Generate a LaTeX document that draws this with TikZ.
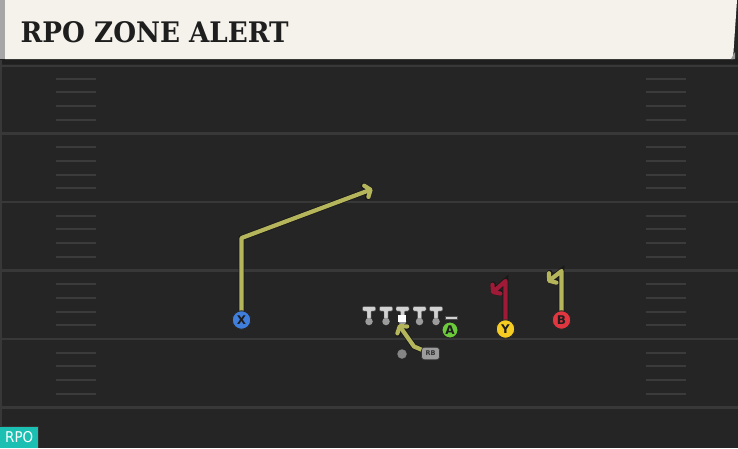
\documentclass[tikz,border=0pt]{standalone}
\usepackage{fontspec}
\usepackage{graphicx}
\usetikzlibrary{arrows.meta}
\newfontfamily\titlefont{DejaVu Serif}
\newfontfamily\sansf{DejaVu Sans}
\definecolor{field}{HTML}{252525}
\definecolor{hdr}{HTML}{F5F2EB}
\definecolor{titlec}{HTML}{1E1E1E}
\definecolor{yard}{HTML}{383838}
\definecolor{hashc}{HTML}{3B3B3B}
\definecolor{olv}{HTML}{B5B55C}
\definecolor{rte}{HTML}{9E1A36}
\definecolor{xblue}{HTML}{3F7FDB}
\definecolor{agreen}{HTML}{6CCB3A}
\definecolor{yyel}{HTML}{F5CC22}
\definecolor{bred}{HTML}{E1363F}
\definecolor{tealc}{HTML}{1BC0B3}
\definecolor{teec}{HTML}{D2D2D2}
\definecolor{basec}{HTML}{9C9C9C}
\tikzset{
  yardline/.style={draw=yard, line width=2.2pt},
  hashmark/.style={draw=hashc, line width=2pt},
  route/.style={line width=4.2pt, line join=round, line cap=round,
    -{Straight Barb[length=4.5pt,width=12pt,round]},
    preaction={draw=black!90, line width=5.8pt}},
  player/.style={circle, minimum size=18.5pt, inner sep=0pt, draw=black!85,
    line width=0.9pt, text=titlec, font=\sansf\bfseries\fontsize{12}{12}\selectfont},
  tee/.style={fill=teec, draw=black!70, line width=0.4pt, rounded corners=1pt},
  tbase/.style={circle, fill=basec, minimum size=7.5pt, inner sep=0pt},
  rbbox/.style={draw=black!80, fill=basec, rounded corners=3pt, minimum width=18pt,
    minimum height=12.5pt, inner sep=0pt, line width=0.6pt, text=black!80,
    font=\sansf\bfseries\fontsize{6.5}{6.5}\selectfont},
  qbsq/.style={fill=white, minimum width=8pt, minimum height=7.5pt, inner sep=0pt},
}
\begin{document}
\begin{tikzpicture}[x=1pt,y=-1pt]
\useasboundingbox (0,0) rectangle (738,448);
% field
\fill[field] (0,0) rectangle (738,448);
\fill[black!88] (0,58) rectangle (738,64);
\fill[yard] (0,60) rectangle (2,448);
% header
\fill[black!35] (0,0) rectangle (5,59);
\fill[hdr] (5,0) -- (737,0) -- (733,59) -- (5,59) -- cycle;
\fill[black!40] (731,59) -- (735,52) -- (735,59) -- cycle;
\node[anchor=south west, inner sep=0pt, text=titlec] (title) at (20.5,43.5)
  {\resizebox{268pt}{21pt}{\titlefont\bfseries RPO ZONE ALERT}};
% yard lines
\foreach \L in {66,133.5,202,270.5,339,407.5}
  \draw[yardline] (2,\L) -- (738,\L);
% hash marks
\foreach \L in {65,133.5,202,270.5,339}
  \foreach \k in {1,...,4} {
    \draw[hashmark] (56,{\L+13.7*\k}) -- (96,{\L+13.7*\k});
    \draw[hashmark] (646,{\L+13.7*\k}) -- (686,{\L+13.7*\k});
  }
% badge
\fill[black!80] (0,426) rectangle (39,448);
\node[fill=tealc, anchor=south west, minimum width=38pt, minimum height=21pt,
  inner sep=0pt, text=white] (rpo) at (0,448)
  {\resizebox{28pt}{11pt}{\sansf RPO}};
% route corner and end points
\coordinate (Xc) at (241.5,238);
\coordinate (Xe) at (372.5,189);
\coordinate (Yc) at (505.5,281);
\coordinate (Ye) at (491.5,293.5);
\coordinate (Bc) at (561.5,271);
\coordinate (Be) at (547.5,282);
\coordinate (R1) at (414,346.5);
\coordinate (R2) at (398.5,324.5);
% players (positions)
\node[player, fill=xblue] (X) at (241.5,320) {X};
\node[player, fill=agreen, minimum size=16pt] (A) at (450,330) {A};
\node[player, fill=yyel] (Y) at (505.5,329) {Y};
\node[player, fill=bred] (B) at (561.5,320) {B};
\fill[teec, draw=black!70, line width=0.4pt] (445,316.3) rectangle (457,319.5);
% linemen
\foreach \i/\x in {1/369,2/386,3/402.5,4/419.5,5/436} {
  \filldraw[tee] ({\x-6.5},306.5) -- ({\x+6.5},306.5) -- ({\x+6.5},311) -- ({\x+2},311)
    -- ({\x+2},319) -- ({\x-2},319) -- ({\x-2},311) -- ({\x-6.5},311) -- cycle;
  \node[tbase] (L\i) at (\x,321.5) {};
}
\node[qbsq] (QB) at (401.5,318.5) {};
\node[circle, fill=basec!85!black, minimum size=9.5pt, inner sep=0pt] (dot) at (402,354) {};
\node[rbbox] (RB) at (430.5,353.5) {RB};
% routes
\draw[route, olv] (X) -- (Xc) -- (Xe);
\draw[route, rte] (Y) -- (Yc) -- (Ye);
\draw[route, olv] (B) -- (Bc) -- (Be);
\draw[route, olv] (RB) -- (R1) -- (R2);
% redraw marks over route starts
\node[player, fill=xblue] at (X) {X};
\node[player, fill=yyel] at (Y) {Y};
\node[player, fill=bred] at (B) {B};
\node[rbbox] at (RB) {RB};
\node[qbsq] at (QB) {};
\end{tikzpicture}
\end{document}
